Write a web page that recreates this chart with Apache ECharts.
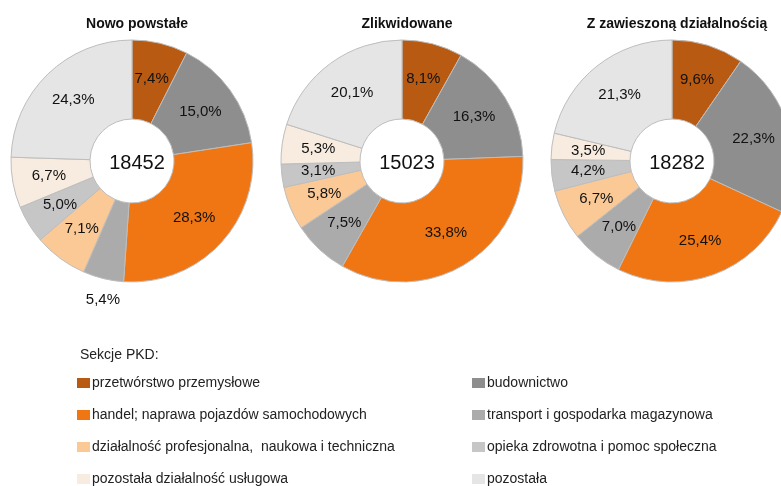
<!DOCTYPE html>
<html>
<head>
<meta charset="utf-8">
<script src="https://cdn.jsdelivr.net/npm/echarts@6/dist/echarts.min.js"></script>
<style>
  html, body { margin: 0; padding: 0; background: #fff; }
  #chart { width: 781px; height: 486px; }
</style>
</head>
<body>
<div id="chart"></div>
<script>
  // sekcje PKD, w kolejnosci wycinkow (zgodnie z ruchem wskazowek zegara)
  var sections = [
    'przetwórstwo przemysłowe',
    'budownictwo',
    'handel; naprawa pojazdów samochodowych',
    'transport i gospodarka magazynowa',
    'działalność profesjonalna,  naukowa i techniczna',
    'opieka zdrowotna i pomoc społeczna',
    'pozostała działalność usługowa',
    'pozostała'
  ]
  var colors = ['#B85A12', '#8E8E8E', '#EF7613', '#ABABAB', '#FBC996', '#C6C6C6', '#F7ECDF', '#E5E5E5']

  var chartTitles = ['Nowo powstałe', 'Zlikwidowane', 'Z zawieszoną działalnością']
  var totals = [18452, 15023, 18282]

  var nowoPowstale = [7.4, 15.0, 28.3, 5.4, 7.1, 5.0, 6.7, 24.3]
  var zlikwidowane = [8.1, 16.3, 33.8, 7.5, 5.8, 3.1, 5.3, 20.1]
  var zawieszone = [9.6, 22.3, 25.4, 7.0, 6.7, 4.2, 3.5, 21.3]

  var legendLeft = [sections[0], sections[2], sections[4], sections[6]]
  var legendRight = [sections[1], sections[3], sections[5], sections[7]]

  var font = 'Liberation Sans, Arial, sans-serif'
  var centersX = [132, 402, 672]
  var centerY = 161

  function fmt (v) {
    return v.toFixed(1).replace('.', ',') + '%'
  }

  function buildData (values, outsideIdx) {
    return values.map(function (v, i) {
      var item = {
        name: sections[i],
        value: v,
        itemStyle: { color: colors[i] }
      }
      if (outsideIdx === i) {
        // 5,4% w Excelu lezy pod wykresem
        item.label = { position: 'outside' }
        item.labelLine = { show: false, length: 22, length2: 0 }
      }
      return item
    })
  }

  var allValues = [nowoPowstale, zlikwidowane, zawieszone]
  var series = allValues.map(function (vals, k) {
    var s = {
      type: 'pie',
      center: [centersX[k], centerY],
      radius: [42, 121],
      startAngle: 90,
      avoidLabelOverlap: false,
      silent: true,
      itemStyle: {
        borderColor: '#bdbdbd',
        borderWidth: 1
      },
      label: {
        show: true,
        position: 'inside',
        formatter: function (p) { return fmt(p.value) },
        color: '#111',
        fontSize: 15,
        fontFamily: font
      },
      labelLine: { show: false },
      data: buildData(vals, k === 0 ? 3 : -1)
    }
    if (k === 0) {
      s.labelLayout = function (params) {
        if (params.dataIndex === 3) {
          return { align: 'center', dx: 10 }
        }
      }
    }
    return s
  })

  var titles = []
  chartTitles.forEach(function (t, k) {
    titles.push({
      text: t,
      left: centersX[k],
      top: 12,
      textAlign: 'center',
      textStyle: { fontSize: 14, fontWeight: 'bold', color: '#111', fontFamily: font }
    })
    titles.push({
      text: String(totals[k]),
      left: centersX[k],
      top: centerY - 13,
      textAlign: 'center',
      textStyle: { fontSize: 20, fontWeight: 'normal', color: '#111', fontFamily: font }
    })
  })
  titles.push({
    text: 'Sekcje PKD:',
    left: 75,
    top: 343,
    textStyle: { fontSize: 14, fontWeight: 'normal', color: '#222', fontFamily: font }
  })

  var legendBase = {
    orient: 'vertical',
    top: 376,
    height: 130,
    padding: 0,
    itemWidth: 13,
    itemHeight: 10,
    itemGap: 18,
    icon: 'rect',
    selectedMode: false,
    itemStyle: { borderWidth: 0 },
    textStyle: { fontSize: 14, lineHeight: 14, color: '#222', fontFamily: font, padding: [0, 0, 0, -3] }
  }

  var option = {
    animation: false,
    title: titles,
    legend: [
      Object.assign({}, legendBase, { left: 77, data: legendLeft }),
      Object.assign({}, legendBase, { left: 472, data: legendRight })
    ],
    series: series
  }

  var chart = echarts.init(document.getElementById('chart'))
  chart.setOption(option)
</script>
</body>
</html>
